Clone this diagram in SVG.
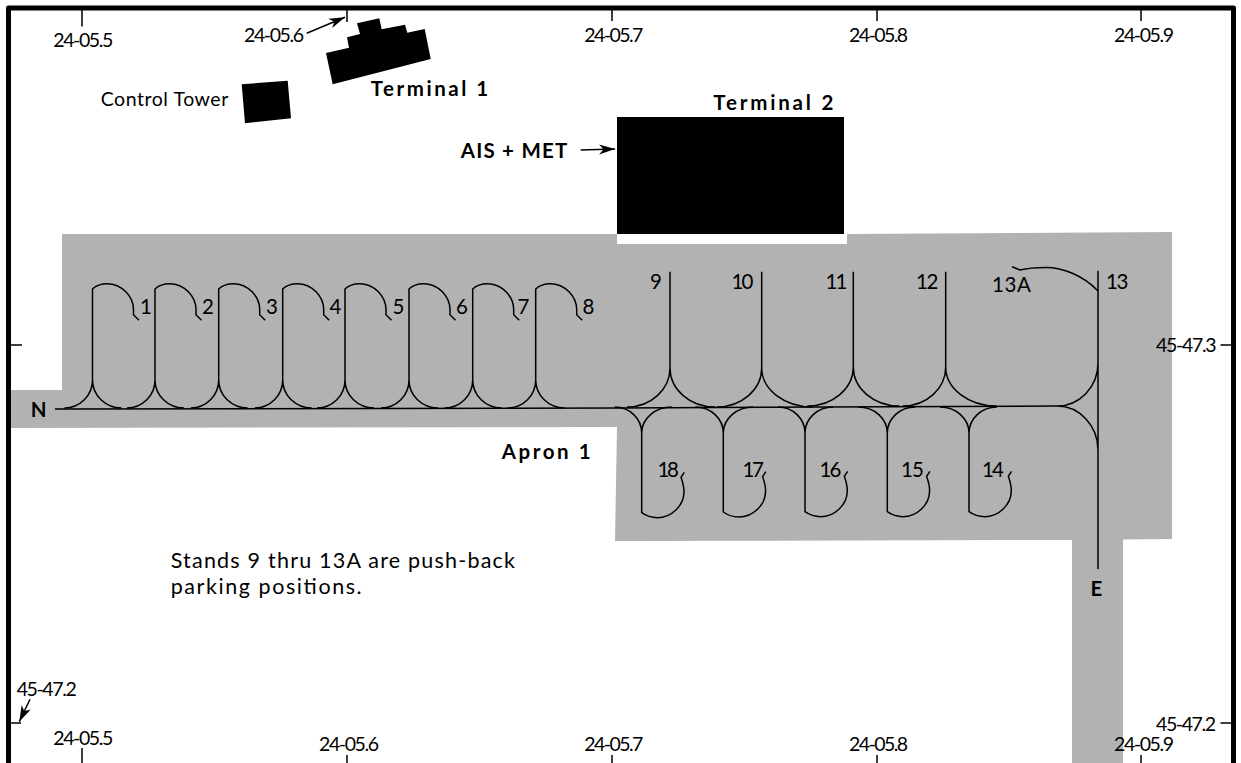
<svg xmlns="http://www.w3.org/2000/svg" width="1241" height="763" viewBox="0 0 1241 763">
<style>
text{font-family:"Lato","Liberation Sans",sans-serif;font-size:19.5px;fill:#000}
.n{font-size:20.5px}
.p{font-size:21.5px}
.b{font-weight:700;font-size:20.5px}
.l{fill:none;stroke:#000;stroke-width:1.5}
.t{fill:none;stroke:#000;stroke-width:1.5}
.k{fill:#000}
</style>
<defs>
<marker id="arrow" markerUnits="userSpaceOnUse" markerWidth="18" markerHeight="12" refX="16" refY="6" orient="auto">
<path d="M0 1L16 6L0 11L4.500 6Z" fill="#000"/>
</marker>
</defs>
<rect width="1241" height="763" fill="#fff"/>
<path id="apron" fill="#b2b2b2" d="M62 234H617V244H847V234L1172 232V539L1123 539.5V763H1072V540L615 541L617 427L10 428V390H62Z"/>
<g id="buildings">
<polygon id="terminal-1" class="k" points="326,53 349,47.7 347,37.3 360,34 357,23.3 379.3,18.3 381.7,29.3 405,24.7 407.3,32.7 424.7,29 430.7,59 332.7,84.3"/>
<polygon id="control-tower" class="k" points="241.7,84.3 287.7,80.7 291,118.3 245,123.3"/>
<rect id="terminal-2" class="k" x="617" y="117" width="227" height="117"/>
</g>
<path id="frame" d="M8.5 763V8H1233.5V763" fill="none" stroke="#000" stroke-width="5" stroke-linejoin="round"/>
<path id="ticks" class="t" d="M82 10V26.5M347 10V22M612 10V21M877 10V21M1141 10V21M82 748V763M347 755V763M612 755V763M877 755V763M1141 755V763M10 345H22M10 723H21M1220.5 345H1232M1220.5 723H1232"/>
<g id="connectors">
<path id="taxiline" class="l" d="M55 409L620 408L1057 406"/>
<path class="t" marker-end="url(#arrow)" d="M306.7 33.3L345 17.3"/>
<path class="t" marker-end="url(#arrow)" d="M580.7 150L615 149"/>
<path class="t" marker-end="url(#arrow)" d="M30 699.3L19.3 721.7"/>
</g>
<g id="stand-1"><path class="l" d="M92.5 380v-91q5.5-5.3 14.5-5.3c15 0 26.5 13 26.5 26v5l5.5 5.5M92.5 380a28 28 0 0 1-28 28M92.5 380a29 28 0 0 0 29 28"/><text class="n" x="140" y="313.500">1</text></g>
<g id="stand-2"><path class="l" d="M155 380v-91q5.5-5.3 14.500-5.3c15 0 26.5 13 26.5 26v5l5.5 5.5M155 380a28 28 0 0 1-28 28M155 380a29 28 0 0 0 29 28"/><text class="n" x="202" y="313.500">2</text></g>
<g id="stand-3"><path class="l" d="M218.700 380v-91q5.5-5.3 14.500-5.3c15 0 26.5 13 26.5 26v5l5.5 5.5M218.700 380a28 28 0 0 1-28 28M218.700 380a29 28 0 0 0 29 28"/><text class="n" x="266" y="313.500">3</text></g>
<g id="stand-4"><path class="l" d="M282.700 380v-91q5.5-5.3 14.500-5.3c15 0 26.5 13 26.5 26v5l5.5 5.5M282.700 380a28 28 0 0 1-28 28M282.700 380a29 28 0 0 0 29 28"/><text class="n" x="329.500" y="313.500">4</text></g>
<g id="stand-5"><path class="l" d="M345 380v-91q5.5-5.3 14.500-5.3c15 0 26.5 13 26.5 26v5l5.5 5.5M345 380a28 28 0 0 1-28 28M345 380a29 28 0 0 0 29 28"/><text class="n" x="392.500" y="313.500">5</text></g>
<g id="stand-6"><path class="l" d="M409 380v-91q5.5-5.3 14.500-5.3c15 0 26.5 13 26.5 26v5l5.5 5.5M409 380a28 28 0 0 1-28 28M409 380a29 28 0 0 0 29 28"/><text class="n" x="456" y="313.500">6</text></g>
<g id="stand-7"><path class="l" d="M472.700 380v-91q5.5-5.3 14.500-5.3c15 0 26.5 13 26.5 26v5l5.5 5.5M472.700 380a28 28 0 0 1-28 28M472.700 380a29 28 0 0 0 29 28"/><text class="n" x="517.500" y="313.500">7</text></g>
<g id="stand-8"><path class="l" d="M535.700 380v-91q5.5-5.3 14.500-5.3c15 0 26.5 13 26.5 26v5l5.5 5.5M535.700 380a28 28 0 0 1-28 28M535.700 380a29 28 0 0 0 29 28"/><text class="n" x="582.500" y="313.500">8</text></g>
<g id="stand-9"><path class="l" d="M670 271.700V368a43 39 0 0 1-43 39M670 368a45 39 0 0 0 45 39"/><text class="n" x="650" y="288.500">9</text></g>
<g id="stand-10"><path class="l" d="M761.700 271.700V368a45 39 0 0 1-45 39M761.700 368a51 39 0 0 0 51 39"/><text class="n" x="731.500" y="288.500" textLength="22">10</text></g>
<g id="stand-11"><path class="l" d="M853.300 271.700V367a46 39 0 0 1-46 39M853.300 367a46 39 0 0 0 46 39"/><text class="n" x="825.500" y="288.500" textLength="22">11</text></g>
<g id="stand-12"><path class="l" d="M945.700 271.700V367a43 39 0 0 1-43 39M945.700 367a51 39 0 0 0 51 39"/><text class="n" x="916" y="288.500" textLength="22.500">12</text></g>
<g id="stand-13"><path class="l" d="M1098 270.700V569M1098 363a41 43 0 0 1-41 43M1057 406a41 44 0 0 1 41 44"/><text class="n" x="1106" y="288.500" textLength="22.500">13</text></g>
<g id="stand-13A"><path class="l" d="M1098 291C1083 275 1062 267.500 1046 267.500Q1030 267.500 1020 270L1012 266.700"/><text class="n" x="992" y="292" textLength="39">13A</text></g>
<g id="stand-18"><path class="l" d="M641.700 433V512.700q7 5 15.600 5c14 0 26.700-12 26.700-26c0-6-1.500-10-3-14.400l3.300-5M641.700 433a27 26 0 0 0-27-26M641.700 433a30 26 0 0 1 30-26"/><text class="n" x="657.500" y="476.500" textLength="21.500">18</text></g>
<g id="stand-17"><path class="l" d="M723.300 433V512q7 5 15.600 5c14 0 26.700-12 26.700-26c0-6-1.500-10-3-14.400l3.300-5M723.300 433a28 26 0 0 0-28-26M723.300 433a30 26 0 0 1 30-26"/><text class="n" x="742.500" y="476.500" textLength="21.500">17</text></g>
<g id="stand-16"><path class="l" d="M805 433V511.700q7 5 15.600 5c14 0 26.700-12 26.700-26c0-6-1.500-10-3-14.400l3.300-5M805 433a27 26 0 0 0-27-26M805 433a28 26 0 0 1 28-26"/><text class="n" x="819.500" y="476.500" textLength="22">16</text></g>
<g id="stand-15"><path class="l" d="M887.300 433V511.700q7 5 15.600 5c14 0 26.700-12 26.700-26c0-6-1.500-10-3-14.400l3.300-5M887.300 433a29 26 0 0 0-29-26M887.300 433a28 26 0 0 1 28-26"/><text class="n" x="901" y="476.500" textLength="23">15</text></g>
<g id="stand-14"><path class="l" d="M969 433V511.700q7 5 15.600 5c14 0 26.700-12 26.700-26c0-6-1.500-10-3-14.400l3.300-5M969 433a29 26 0 0 0-29-26M969 433a28 26 0 0 1 28-26"/><text class="n" x="982" y="476.500" textLength="22">14</text></g>
<g id="labels">
<text x="53.300" y="46.500" textLength="60">24-05.5</text>
<text x="244" y="41.500" textLength="60">24-05.6</text>
<text x="584.300" y="41.500" textLength="59">24-05.7</text>
<text x="849" y="41.500" textLength="59">24-05.8</text>
<text x="1114" y="41.500" textLength="60">24-05.9</text>
<text x="53.300" y="744.500" textLength="60">24-05.5</text>
<text x="319" y="750.500" textLength="60">24-05.6</text>
<text x="584.300" y="750.500" textLength="59">24-05.7</text>
<text x="849" y="750.500" textLength="59">24-05.8</text>
<text x="1114" y="750.500" textLength="60">24-05.9</text>
<text x="1156" y="352" textLength="60.500">45-47.3</text>
<text x="1156" y="731" textLength="60">45-47.2</text>
<text x="16.700" y="695.500" textLength="60">45-47.2</text>
<text x="100.700" y="106" textLength="127.600">Control Tower</text>
<text class="b" x="370.700" y="96" textLength="117.500">Terminal 1</text>
<text class="b" x="713.300" y="110" textLength="120">Terminal 2</text>
<text class="b" x="460.700" y="158" textLength="106.600">AIS + MET</text>
<text class="b" x="30.700" y="416.700">N</text>
<text class="b" x="1090.500" y="596">E</text>
<text class="b" x="501.700" y="458.700" textLength="89">Apron 1</text>
<text class="p" x="170.700" y="567.700" textLength="344.300">Stands 9 thru 13A are push-back</text>
<text class="p" x="170.700" y="594" textLength="191">parking positions.</text>
</g>
</svg>
